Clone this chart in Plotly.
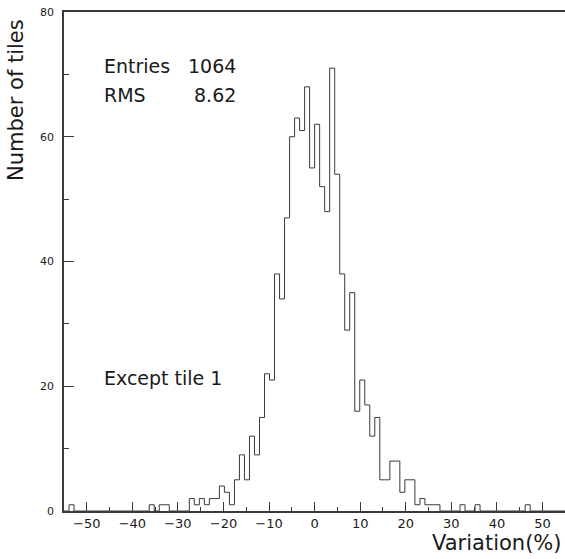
import numpy as np
import plotly.graph_objects as go

# Canvas and frame (pixels)
W, H = 565, 559
ML, MR, MT, MB = 64, 0, 12, 48

# Histogram definition: 100 bins from -55 % to +55 %
bin_low, bin_high = -55.0, 55.0
counts = [
    0, 1, 0, 0, 0, 0, 0, 0, 0, 0,
    0, 0, 0, 0, 0, 0, 0, 1, 0, 1,
    1, 0, 0, 0, 0, 2, 1, 2, 1, 2,
    2, 4, 3, 1, 5, 9, 5, 12, 9, 15,
    22, 21, 38, 34, 47, 60, 63, 61, 68, 55,
    62, 52, 48, 71, 54, 38, 29, 35, 16, 21,
    17, 12, 15, 5, 5, 8, 8, 3, 5, 5,
    1, 2, 1, 1, 1, 0, 0, 0, 0, 1,
    0, 0, 1, 0, 0, 0, 0, 0, 0, 0,
    0, 0, 1, 0, 0, 0, 0, 0, 0, 0,
]
x_ticks = [-50, -40, -30, -20, -10, 0, 10, 20, 30, 40, 50]
y_ticks = [0, 20, 40, 60, 80]
entries = 1064
rms = 8.62

edges = np.linspace(bin_low, bin_high, len(counts) + 1)
step_x = list(edges)
step_y = list(counts) + [counts[-1]]

FONT = "DejaVu Sans"
INK = "#1a1a1a"
LINE = "#3a3a3a"

fig = go.Figure()
fig.add_trace(go.Scatter(
    x=step_x, y=step_y, mode="lines",
    line=dict(shape="hv", color=LINE, width=1),
    hoverinfo="skip", showlegend=False,
))

PW, PH = W - ML - MR, H - MT - MB


def px(xp):
    return (xp - ML) / PW


def py(yp):
    return (H - MB - yp) / PH


def label(text, x, y, xanchor, size=19, angle=0, yanchor="middle"):
    fig.add_annotation(
        text=text, x=px(x), y=py(y), xref="paper", yref="paper",
        xanchor=xanchor, yanchor=yanchor, showarrow=False, textangle=angle,
        font=dict(family=FONT, size=size, color=INK),
    )


label("Entries", 102, 66, "left")
label(str(entries), 238, 66, "right")
label("RMS", 102, 95, "left")
label(f"{rms:.2f}", 238, 95, "right")
label("Except tile 1", 102, 378, "left")
label("Number of tiles", 16, 100, "center", size=21, angle=-90)
label("Variation(%)", 564, 543, "right", size=21)

fig.update_xaxes(
    range=[bin_low, bin_low + PW / 4.557],
    tickmode="array", tickvals=x_ticks, ticktext=[f"{v}".replace("-", "\u2212") for v in x_ticks],
    ticks="inside", ticklen=9, tickwidth=1, tickcolor=LINE,
    minor=dict(dtick=5, tick0=0, ticks="inside", ticklen=4, tickwidth=1, tickcolor=LINE),
    showline=True, linecolor=LINE, linewidth=1.5, mirror=True,
    showgrid=False, zeroline=False,
    tickfont=dict(family=FONT, size=13, color=INK),
)
fig.update_yaxes(
    range=[0, 80],
    tickmode="array", tickvals=y_ticks,
    ticks="inside", ticklen=10, tickwidth=1, tickcolor=LINE,
    minor=dict(dtick=10, tick0=0, ticks="inside", ticklen=5, tickwidth=1, tickcolor=LINE),
    showline=True, linecolor=LINE, linewidth=1.5, mirror=False,
    showgrid=False, zeroline=False,
    ticklabelstandoff=6,
    tickfont=dict(family=FONT, size=11, color=INK),
)
fig.update_layout(
    width=W, height=H,
    margin=dict(l=ML, r=MR, t=MT, b=MB, pad=0),
    paper_bgcolor="white", plot_bgcolor="white",
    showlegend=False,
)

fig.write_html("out.html")
